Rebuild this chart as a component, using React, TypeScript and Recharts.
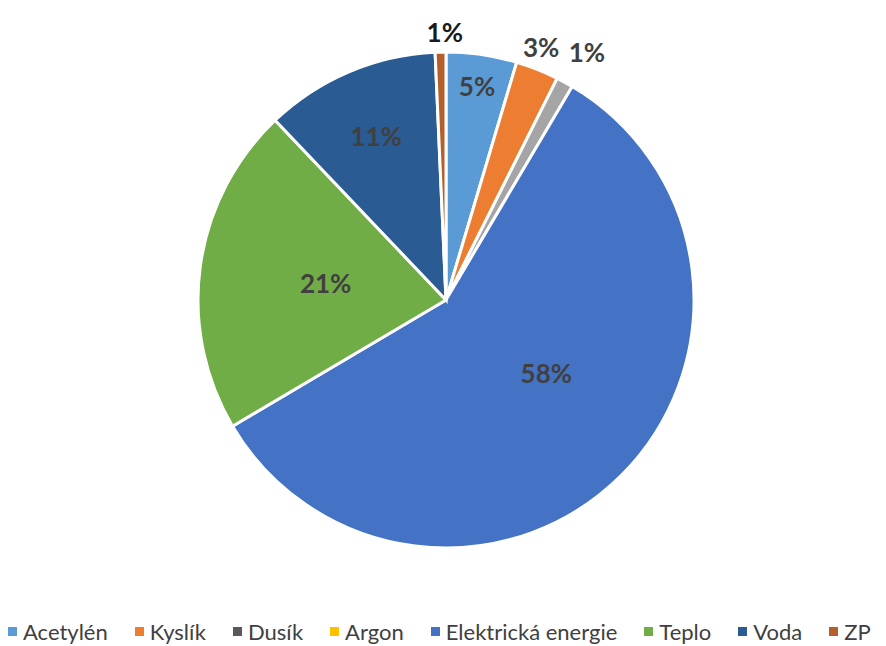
import { PieChart, Pie, Cell, Legend } from "recharts";

// Shares of the cost (percent)
const categories = [
  "Acetylén",
  "Kyslík",
  "Dusík",
  "Argon",
  "Elektrická energie",
  "Teplo",
  "Voda",
  "ZP",
];
const shares = [4.6, 2.8, 1.1, 0, 58.0, 21.4, 11.4, 0.7];

const sliceColors = [
  "#5b9bd5",
  "#ed7d31",
  "#a5a5a5",
  "#ffc000",
  "#4472c4",
  "#70ad47",
  "#2b5b93",
  "#b5602c",
];
const legendColors = [
  "#5b9bd5",
  "#ed7d31",
  "#595959",
  "#ffc000",
  "#4472c4",
  "#70ad47",
  "#2b5b93",
  "#b5602c",
];

// label placement: radius factor and angle tweak per slice (best-fit look)
const labelRadius = [0.87, 1.09, 1.15, 0, 0.5, 0.49, 0.72, 1.08];
const labelTurn = [0, 1, -1, 0, 9, 0, 0, -1];

const data = categories.map((name, i) => ({ name, value: shares[i] }));

const RADIAN = Math.PI / 180;

const renderLabel = (props: any) => {
  const { cx, cy, midAngle, outerRadius, index, value } = props;
  if (!value) return null;
  const a = (midAngle + labelTurn[index]) * RADIAN;
  const r = outerRadius * labelRadius[index];
  const x = cx + r * Math.cos(-a);
  const y = cy + r * Math.sin(-a);
  return (
    <text
      x={x}
      y={y}
      textAnchor="middle"
      dominantBaseline="central"
      fill={index === 7 ? "#1a1a1a" : "#404040"}
      fontSize={26}
      fontWeight={700}
      fontFamily="Lato, 'Open Sans', sans-serif"
    >
      {Math.round(value)}%
    </text>
  );
};

const renderLegend = () => (
  <div
    style={{
      display: "flex",
      alignItems: "center",
      fontFamily: "Lato, 'Open Sans', sans-serif",
      fontSize: 22,
      color: "#404040",
      whiteSpace: "nowrap",
    }}
  >
    {categories.map((c, i) => (
      <div
        key={c}
        style={{ display: "flex", alignItems: "center", marginRight: 27 }}
      >
        <span
          style={{
            display: "inline-block",
            width: 9,
            height: 9,
            background: legendColors[i],
            marginRight: 6,
          }}
        />
        {c}
      </div>
    ))}
  </div>
);

export default function App() {
  return (
    <div style={{ position: "absolute", left: 0, top: 0, background: "#fff" }}>
      <PieChart width={886} height={646}>
        <Pie
          data={data}
          dataKey="value"
          nameKey="name"
          cx={441}
          cy={295}
          outerRadius={248}
          startAngle={90}
          endAngle={-270}
          stroke="#ffffff"
          strokeWidth={3}
          label={renderLabel}
          labelLine={false}
          isAnimationActive={false}
        >
          {data.map((d, i) => (
            <Cell key={d.name} fill={sliceColors[i]} />
          ))}
        </Pie>
        <Legend
          content={renderLegend}
          wrapperStyle={{ position: "absolute", left: 8, top: 618, width: 886 }}
        />
      </PieChart>
    </div>
  );
}
